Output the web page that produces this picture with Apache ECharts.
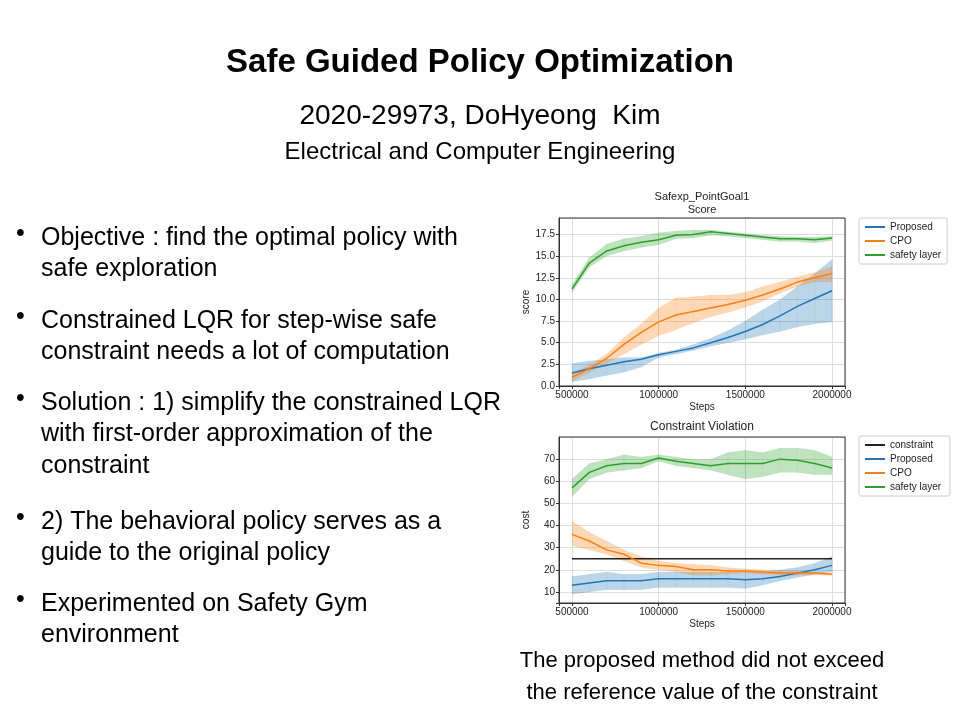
<!DOCTYPE html>
<html><head><meta charset="utf-8">
<script src="https://cdn.jsdelivr.net/npm/echarts@6/dist/echarts.min.js"></script>
<style>body{margin:0;background:#fff}#c{width:960px;height:720px}</style>
</head><body><div id="c"></div>
<script>
const steps = [500000,600000,700000,800000,900000,1000000,1100000,1200000,1300000,1400000,1500000,1600000,1700000,1800000,1900000,2000000];

// score chart
const scoreProposed = [1.5,2.0,2.4,2.8,3.1,3.6,4.0,4.4,5.0,5.6,6.3,7.1,8.1,9.2,10.1,11.0];
const scoreProposedLo = [0.5,0.8,1.2,1.6,2.2,3.3,3.7,4.1,4.6,5.0,5.4,5.9,6.3,6.8,7.2,7.4];
const scoreProposedHi = [2.6,2.9,3.1,3.3,3.3,3.8,4.2,4.8,5.5,6.4,7.5,8.8,10.0,11.5,13.0,14.6];
const scoreCPO = [1.0,2.0,3.2,4.8,6.2,7.4,8.2,8.6,9.0,9.4,9.9,10.5,11.2,12.0,12.5,13.0];
const scoreCPOLo = [0.5,1.6,2.6,3.7,4.8,5.8,6.5,7.3,8.0,8.5,9.1,9.8,10.7,11.5,12.0,12.0];
const scoreCPOHi = [1.5,2.4,3.7,5.6,7.2,9.0,10.2,10.3,10.5,10.5,10.8,11.5,12.0,12.6,13.1,13.8];
const scoreSafety = [11.2,14.2,15.6,16.2,16.6,16.9,17.4,17.5,17.8,17.6,17.4,17.2,17.0,17.0,16.9,17.1];
const scoreSafetyLo = [10.8,13.7,15.0,15.6,16.0,16.3,17.0,17.1,17.4,17.3,17.1,16.9,16.7,16.7,16.5,16.8];
const scoreSafetyHi = [11.7,14.8,16.4,17.0,17.3,17.7,17.9,18.0,18.0,17.8,17.6,17.4,17.3,17.2,17.2,17.3];

// cost chart
const constraintLevel = 25;
const costProposed = [13,14,15,15,15,16,16,16,16,16,15.5,16,17,18.5,20,22];
const costProposedLo = [9,10,11,11,11,12,12,12,12,12,11.5,13,15,16.5,18,19];
const costProposedHi = [17,18,19,18,18,19,19,19,19,19,19,19,20,21,23,26];
const costCPO = [36,33,29,27,23,22,21.5,20,20,19.5,19.5,19,18.5,18.5,18.5,18];
const costCPOLo = [31,29,27,24,21,20,19,17.5,17.5,18,18.5,18,17.5,17.5,17.5,17.5];
const costCPOHi = [42,37,33,29,26,24,23,22.5,22,21,20.5,20,19.5,19.5,19,18.5];
const costSafety = [57,64,67,68,68,70.5,69,68,67,68,68,68,70,69.5,68,66];
const costSafetyLo = [53,61,64,65,66,69,67,66,65,63,61,62,64,64,63,63];
const costSafetyHi = [61,68,70,72,71,72,71,70,70,73,74,73,75,75,74,71];

const bullets = [
  ['Objective : find the optimal policy with', 'safe exploration'],
  ['Constrained LQR for step-wise safe', 'constraint needs a lot of computation'],
  ['Solution : 1) simplify the constrained LQR', 'with first-order approximation of the', 'constraint'],
  ['2) The behavioral policy serves as a', 'guide to the original policy'],
  ['Experimented on Safety Gym', 'environment']
];
const bulletTops = [222, 305, 387, 506, 588];

const BLUE = '#1f77b4', ORANGE = '#ff7f0e', GREEN = '#2ca02c';
const FONT = 'Liberation Sans, Arial, sans-serif';

function pairs(ys) { return steps.map((x, i) => [x, ys[i]]); }

// shaded band: one quadrilateral per step interval
function band(lo, hi, color, idx) {
  const rows = steps.map((x, i) => [x, lo[i], hi[i], i < steps.length - 1 ? steps[i + 1] : x,
    i < steps.length - 1 ? lo[i + 1] : lo[i], i < steps.length - 1 ? hi[i + 1] : hi[i]]);
  return {
    type: 'custom', xAxisIndex: idx, yAxisIndex: idx, data: rows, silent: true, z: 1,
    encode: { x: [0, 3], y: [1, 2, 4, 5] },
    renderItem: (params, api) => {
      const a = api.coord([api.value(0), api.value(1)]);
      const b = api.coord([api.value(0), api.value(2)]);
      const c = api.coord([api.value(3), api.value(5)]);
      const d = api.coord([api.value(3), api.value(4)]);
      return { type: 'polygon', shape: { points: [a, b, c, d] },
        style: { fill: color, opacity: 0.3, stroke: color, lineWidth: 0.5, strokeOpacity: 0.3 } };
    }
  };
}
function line(name, ys, color, idx) {
  return { name: name, type: 'line', xAxisIndex: idx, yAxisIndex: idx, data: pairs(ys),
    symbol: 'none', lineStyle: { color: color, width: 1.5 }, itemStyle: { color: color }, z: 5 };
}

const axisText = { fontSize: 10, color: '#222', fontFamily: FONT };
function xAxis(idx) {
  return { type: 'value', gridIndex: idx, min: 425000, max: 2075000, splitNumber: 3,
    name: 'Steps', nameLocation: 'middle', nameGap: 16, nameTextStyle: axisText,
    axisLine: { lineStyle: { color: '#333' } }, axisTick: { length: 3 },
    axisLabel: Object.assign({ margin: 4, formatter: v => v % 500000 === 0 ? String(v) : '' }, axisText),
    splitLine: { lineStyle: { color: '#ddd' } } };
}
function yAxis(idx, min, max, interval, name, fmt) {
  const ax = { type: 'value', gridIndex: idx, min: min, max: max, splitNumber: 8,
    name: name, nameLocation: 'middle', nameGap: 28, nameTextStyle: axisText,
    axisLine: { show: true, lineStyle: { color: '#333' } }, axisTick: { show: true, length: 3 },
    axisLabel: Object.assign({ margin: 4, formatter: fmt, showMaxLabel: false }, axisText),
    splitLine: { lineStyle: { color: '#ddd' } } };
  if (interval) ax.interval = interval;
  return ax;
}
function legend(idx, names, top) {
  return { orient: 'vertical', left: 859, top: top, data: names,
    icon: 'rect', itemWidth: 20, itemHeight: 2, itemGap: 4, padding: [4, 6],
    borderColor: '#ccc', borderWidth: 1, borderRadius: 2,
    textStyle: { fontSize: 10, color: '#222', fontFamily: FONT } };
}

const graphic = [
  { type: 'text', left: 'center', top: 46, style: { text: 'Safe Guided Policy Optimization', font: 'bold 33px ' + FONT, fill: '#000' } },
  { type: 'text', x: 480, y: 102, style: { text: '2020-29973, DoHyeong  Kim', font: '28px ' + FONT, fill: '#000', align: 'center' } },
  { type: 'text', x: 480, y: 140, style: { text: 'Electrical and Computer Engineering', font: '24px ' + FONT, fill: '#000', align: 'center' } },
  { type: 'text', x: 702, y: 190, style: { text: 'Safexp_PointGoal1\nScore', font: '11px ' + FONT, fill: '#222', align: 'center', lineHeight: 13 } },
  { type: 'text', x: 702, y: 421, style: { text: 'Constraint Violation', font: '12px ' + FONT, fill: '#222', align: 'center' } },
  { type: 'text', x: 702, y: 645, style: { text: 'The proposed method did not exceed\nthe reference value of the constraint', font: '22px ' + FONT, fill: '#000', align: 'center', lineHeight: 32 } },
  { type: 'rect', shape: { x: 559, y: 218, width: 286, height: 168 }, style: { fill: 'none', stroke: '#333', lineWidth: 1 }, z: 10 },
  { type: 'rect', shape: { x: 559, y: 437, width: 286, height: 166 }, style: { fill: 'none', stroke: '#333', lineWidth: 1 }, z: 10 }
];
bullets.forEach((lines, i) => {
  graphic.push({ type: 'text', x: 16, y: bulletTops[i], style: { text: '•', font: '25px ' + FONT, fill: '#000' } });
  graphic.push({ type: 'text', x: 41, y: bulletTops[i], style: { text: lines.join('\n'), font: '25px ' + FONT, fill: '#000', lineHeight: 31.5 } });
});

const chart = echarts.init(document.getElementById('c'));
chart.setOption({
  animation: false,
  backgroundColor: '#fff',
  graphic: graphic,
  grid: [
    { left: 559, top: 218, width: 286, height: 168 },
    { left: 559, top: 437, width: 286, height: 166 }
  ],
  xAxis: [xAxis(0), xAxis(1)],
  yAxis: [
    yAxis(0, 0, 19.4, 2.5, 'score', v => v.toFixed(1)),
    yAxis(1, 5, 80, null, 'cost', v => v % 10 === 0 ? String(v) : '')
  ],
  legend: [
    legend(0, ['Proposed', 'CPO', 'safety layer'], 218),
    legend(1, ['constraint', 'Proposed ', 'CPO ', 'safety layer '], 436)
  ],
  series: [
    band(scoreProposedLo, scoreProposedHi, BLUE, 0),
    band(scoreCPOLo, scoreCPOHi, ORANGE, 0),
    band(scoreSafetyLo, scoreSafetyHi, GREEN, 0),
    line('Proposed', scoreProposed, BLUE, 0),
    line('CPO', scoreCPO, ORANGE, 0),
    line('safety layer', scoreSafety, GREEN, 0),
    band(costProposedLo, costProposedHi, BLUE, 1),
    band(costCPOLo, costCPOHi, ORANGE, 1),
    band(costSafetyLo, costSafetyHi, GREEN, 1),
    line('constraint', steps.map(() => constraintLevel), '#222', 1),
    line('Proposed ', costProposed, BLUE, 1),
    line('CPO ', costCPO, ORANGE, 1),
    line('safety layer ', costSafety, GREEN, 1)
  ]
});
</script>
</body></html>
